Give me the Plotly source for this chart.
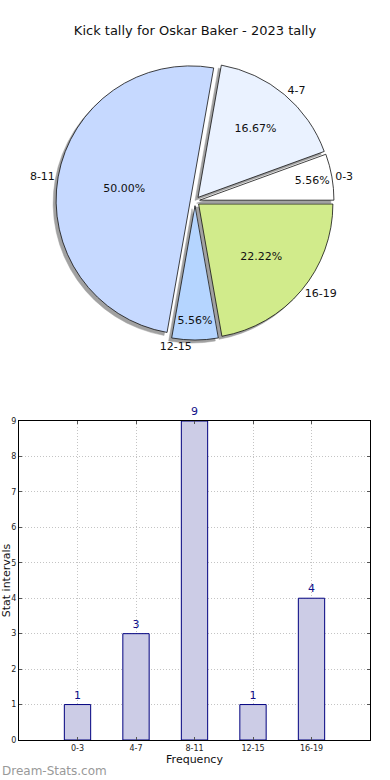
import plotly.graph_objects as go

categories = ["0-3", "4-7", "8-11", "12-15", "16-19"]
counts = [1, 3, 9, 1, 4]
pie_colors = ["#ffffff", "#eaf2ff", "#c6d9ff", "#b5d5ff", "#d1eb8b"]
y_ticks = list(range(0, 10))

title_text = "Kick tally for Oskar Baker - 2023 tally"
font_family = "DejaVu Sans"

# plotly counterclockwise pies end the first slice at `rotation`; start it at 3 o'clock
rotation = 90 - 360 * counts[0] / sum(counts)

pie_dom_x = [0.05, 0.95]
pie_dom_y = [1 - 340 / 780, 1 - 62 / 780]
pulls = [0.035] * len(categories)

fig = go.Figure()

# shadow
dx, dy = 3 / 390, 3 / 780
fig.add_trace(go.Pie(
    labels=categories, values=counts, sort=False, direction="counterclockwise",
    rotation=rotation, pull=pulls, textinfo="none", hoverinfo="skip",
    marker=dict(colors=["#8a8a8a"] * 5, line=dict(color="#8a8a8a", width=0.5)),
    domain=dict(x=[pie_dom_x[0] - dx, pie_dom_x[1] - dx], y=[pie_dom_y[0] - dy, pie_dom_y[1] - dy]),
    showlegend=False, opacity=0.8,
))
# main pie with percents inside
fig.add_trace(go.Pie(
    labels=categories, values=counts, sort=False, direction="counterclockwise",
    rotation=rotation, pull=pulls, texttemplate="%{percent:.2%}", textposition="inside",
    insidetextorientation="horizontal",
    textfont=dict(family=font_family, size=11, color="#111111"),
    marker=dict(colors=pie_colors, line=dict(color="#111111", width=0.8)),
    domain=dict(x=pie_dom_x, y=pie_dom_y), showlegend=False,
))
# labels outside
fig.add_trace(go.Pie(
    labels=categories, values=counts, sort=False, direction="counterclockwise",
    rotation=rotation, pull=pulls, textinfo="label", textposition="outside",
    textfont=dict(family=font_family, size=11, color="#111111"),
    marker=dict(colors=["rgba(0,0,0,0)"] * 5, line=dict(width=0)),
    domain=dict(x=pie_dom_x, y=pie_dom_y), showlegend=False, hoverinfo="skip",
))

fig.add_trace(go.Bar(
    x=categories, y=counts, width=0.45, text=[str(c) for c in counts],
    textposition="outside", cliponaxis=False,
    textfont=dict(family=font_family, size=11, color="#10108a"),
    marker=dict(color="#cccce6", line=dict(color="#00007f", width=1)),
    xaxis="x", yaxis="y", showlegend=False,
))

axis_common = dict(
    showline=True, linecolor="#000000", linewidth=1, mirror="allticks",
    ticks="inside", ticklen=3, tickcolor="#555555", automargin=False,
    showgrid=True, gridcolor="#c4c4c4", griddash="1px,2px", gridwidth=1,
    zeroline=False, tickfont=dict(family=font_family, size=8, color="#222222"),
)

fig.update_layout(
    template="none",
    width=390, height=780,
    margin=dict(l=0, r=0, t=0, b=0, pad=0),
    paper_bgcolor="white", plot_bgcolor="white",
    font=dict(family=font_family, color="#111111"),
    uniformtext=dict(minsize=11, mode="show"),
    title=dict(text=title_text, x=0.5, xanchor="center", y=1 - 30 / 780, yanchor="middle",
               font=dict(family=font_family, size=13, color="#111111")),
    xaxis=dict(domain=[19 / 390, 370 / 390], anchor="y", range=[-1, 5],
               categoryorder="array", categoryarray=categories,
               title=dict(text="Frequency", font=dict(size=11), standoff=2), **axis_common),
    yaxis=dict(domain=[1 - 740 / 780, 1 - 421 / 780], anchor="x", range=[0, 9],
               tickvals=y_ticks,
               title=dict(text="Stat intervals", font=dict(size=11), standoff=0), **axis_common),
    annotations=[dict(text="Dream-Stats.com", xref="paper", yref="paper", x=0, y=1 - 771 / 780,
                      xanchor="left", yanchor="middle", showarrow=False,
                      font=dict(family=font_family, size=12, color="#999999"))],
)

fig.write_html("out.html", config={"displayModeBar": False},
               post_script="document.body.style.margin='0';")
